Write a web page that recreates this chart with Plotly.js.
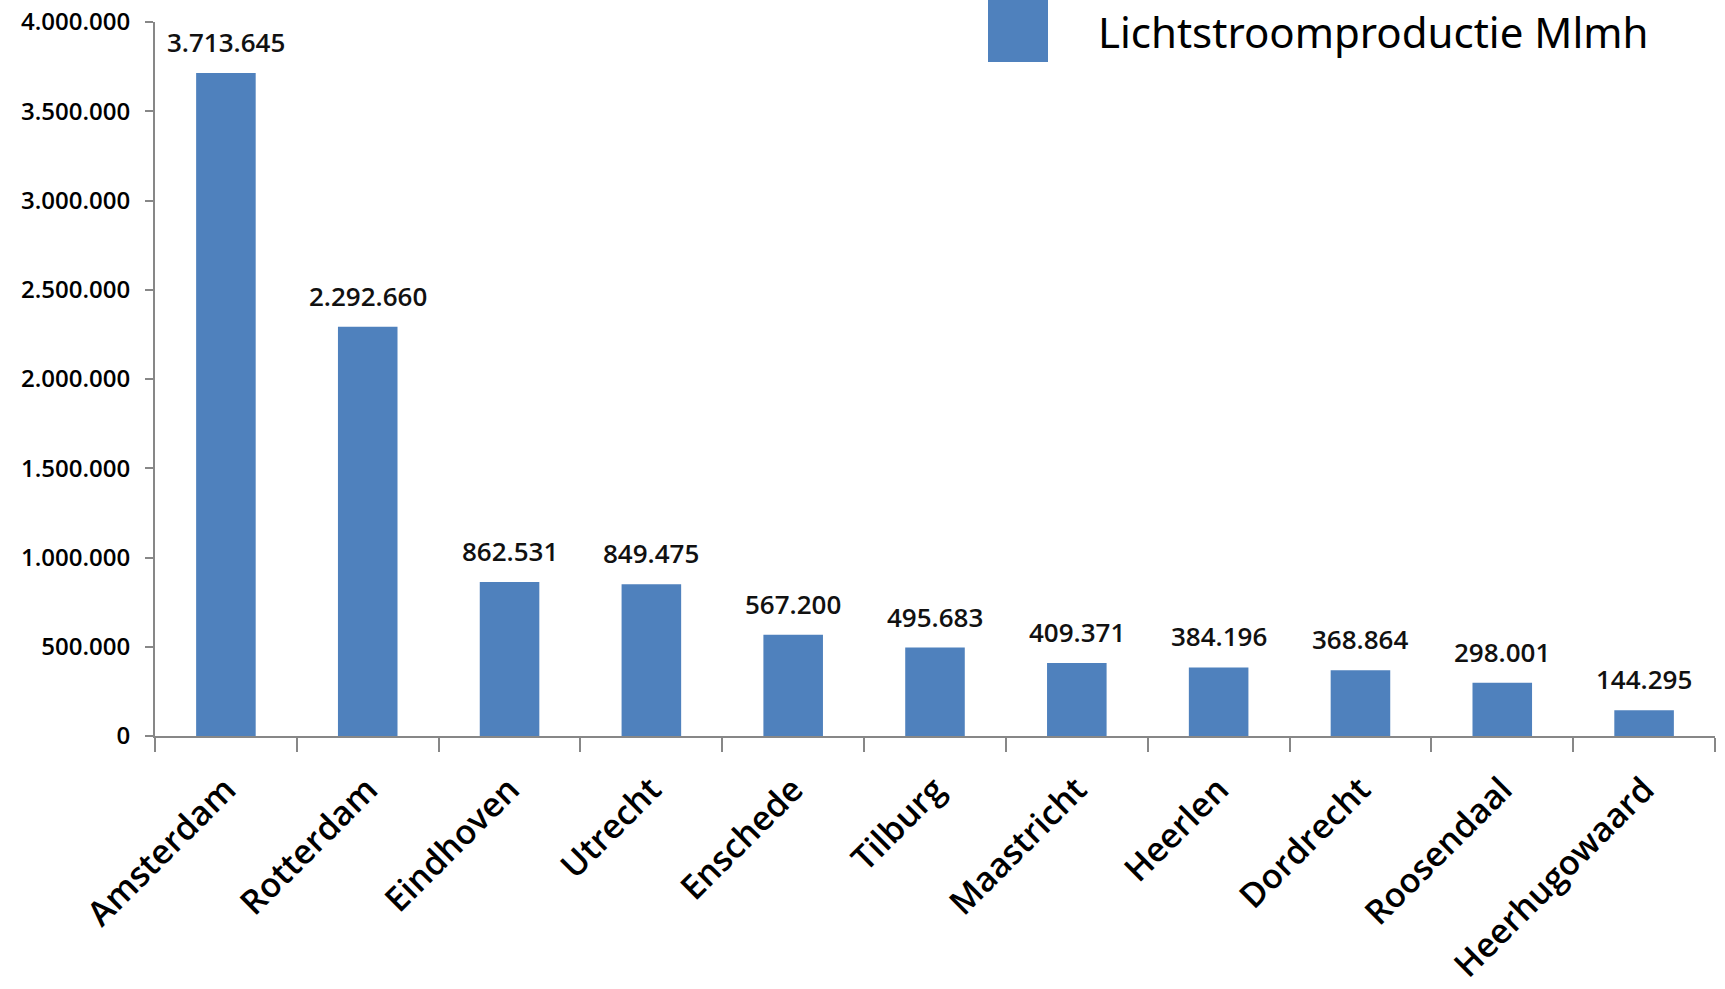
<!DOCTYPE html>
<html>
<head>
<meta charset="utf-8">
<script src="https://cdn.plot.ly/plotly-3.0.1.min.js"></script>
<style>html,body{margin:0;padding:0;background:#fff;}#chart{width:1725px;height:989px;}</style>
</head>
<body>
<div id="chart"></div>
<script>
const cities = ["Amsterdam","Rotterdam","Eindhoven","Utrecht","Enschede","Tilburg","Maastricht","Heerlen","Dordrecht","Roosendaal","Heerhugowaard"];
const values = [3713645,2292660,862531,849475,567200,495683,409371,384196,368864,298001,144295];
const seriesName = "Lichtstroomproductie Mlmh";
const yTicks = [0,500000,1000000,1500000,2000000,2500000,3000000,3500000,4000000];

const barColor = "#4F81BD";
const axisColor = "#878787";
const fontFam = "Open Sans, Noto Sans, DejaVu Sans, sans-serif";
const fmt = v => v.toString().replace(/\B(?=(\d{3})+(?!\d))/g, ".");

const trace = {
  type: "bar",
  x: cities,
  y: values,
  name: seriesName,
  marker: {color: barColor},
  showlegend: false,
  hoverinfo: "x+y"
};

const annotations = cities.map((c, i) => ({
  x: c, y: values[i], xref: "x", yref: "y",
  text: fmt(values[i]), showarrow: false,
  yanchor: "bottom", yshift: 11,
  font: {family: fontFam, size: 26, color: "#111", weight: 600}
}));
annotations.push({
  xref: "paper", yref: "paper", x: (1096-155)/1560, y: (989-253-32)/714,
  xanchor: "left", yanchor: "middle", text: seriesName, showarrow: false,
  font: {family: "Noto Sans, DejaVu Sans, sans-serif", size: 42, color: "#000"}
});

const layout = {
  width: 1725, height: 989,
  margin: {l: 155, r: 10, t: 22, b: 253},
  paper_bgcolor: "#fff", plot_bgcolor: "#fff",
  separators: ",.",
  bargap: 0.58,
  showlegend: false,
  xaxis: {
    type: "category",
    showline: true, linecolor: axisColor, linewidth: 2,
    ticks: "outside", tickson: "boundaries", ticklen: 14, tickwidth: 2, tickcolor: axisColor,
    tickangle: -45,
    tickfont: {family: fontFam, size: 34, color: "#000", weight: 600},
    ticklabelstandoff: 18,
    showgrid: false, zeroline: false
  },
  yaxis: {
    range: [0, 4000000],
    tickvals: yTicks,
    ticktext: yTicks.map(fmt),
    showline: true, linecolor: axisColor, linewidth: 2,
    ticks: "outside", ticklen: 8, tickwidth: 2, tickcolor: axisColor,
    tickfont: {family: fontFam, size: 24, color: "#000", weight: 600},
    ticklabelstandoff: 10,
    showgrid: false, zeroline: false
  },
  shapes: [{
    type: "rect", xref: "paper", yref: "paper",
    x0: (988-155)/1560, x1: (1048-155)/1560,
    y0: (989-253-62)/714, y1: (989-253)/714 + 22/714,
    fillcolor: barColor, line: {width: 0}
  }],
  annotations: annotations
};

Plotly.newPlot("chart", [trace], layout, {displayModeBar: false});
</script>
</body>
</html>
